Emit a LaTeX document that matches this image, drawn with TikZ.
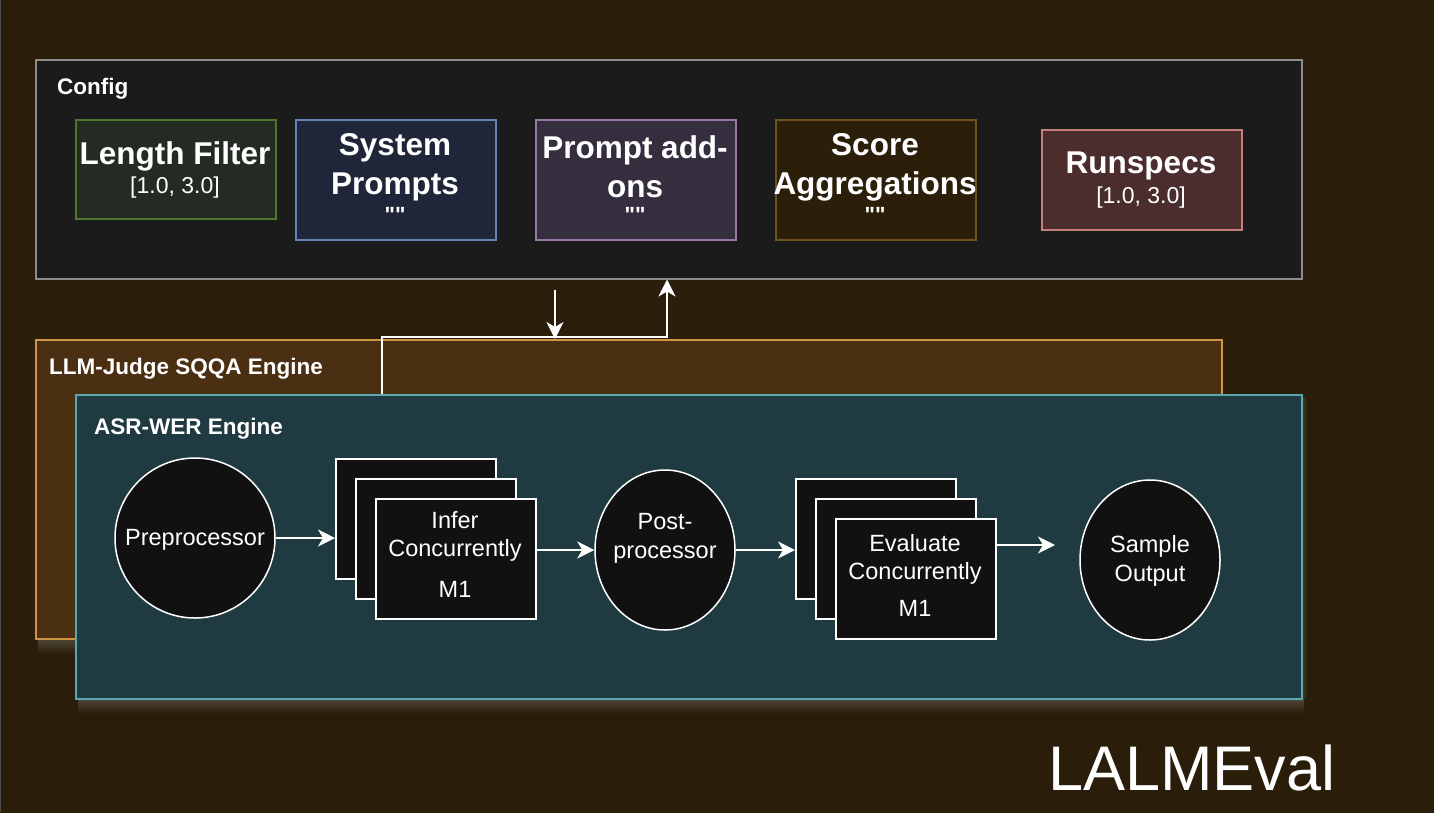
\documentclass[tikz,border=0pt]{standalone}
\usepackage{fontspec}
\setmainfont{Liberation Sans}
\newfontfamily\qfont{Liberation Sans}[Mapping=]
\usetikzlibrary{arrows.meta,shadows,shapes.geometric,calc}
\definecolor{bg}{HTML}{2A1E0A}
\definecolor{cfgfill}{HTML}{1B1B1B}
\definecolor{cfgdraw}{HTML}{8C8C8C}
\definecolor{lffill}{HTML}{242B22}
\definecolor{lfdraw}{HTML}{52752F}
\definecolor{spfill}{HTML}{1F2639}
\definecolor{spdraw}{HTML}{6281B4}
\definecolor{pafill}{HTML}{352E3F}
\definecolor{padraw}{HTML}{9577A8}
\definecolor{safill}{HTML}{2B1F0A}
\definecolor{sadraw}{HTML}{6E5219}
\definecolor{rsfill}{HTML}{4B2D2D}
\definecolor{rsdraw}{HTML}{C77E77}
\definecolor{llmfill}{HTML}{4A2F13}
\definecolor{llmdraw}{HTML}{CF9645}
\definecolor{asrfill}{HTML}{1F3A40}
\definecolor{asrdraw}{HTML}{5AA7AD}
\definecolor{blk}{HTML}{111111}
\definecolor{shd}{HTML}{B8B8B8}
\begin{document}
\begin{tikzpicture}[x=1pt,y=-1pt,
  box/.style={draw, line width=1.5pt, inner sep=0pt, anchor=north west},
  cfgbox/.style={box, minimum width=200pt},
  ttl/.style={text=white, align=center, inner sep=0pt, font=\fontsize{31.5}{39}\selectfont\bfseries},
  val/.style={text=white, align=center, inner sep=0pt, font=\fontsize{23}{28}\selectfont},
  qt/.style={text=white, inner sep=0pt, font=\qfont\fontsize{22}{26}\selectfont\bfseries},
  hdr/.style={text=white, anchor=west, inner sep=0pt, font=\fontsize{22.5}{27}\selectfont\bfseries},
  proc/.style={draw=white, fill=blk, line width=1.5pt, inner sep=0pt, text=white, align=center, font=\fontsize{23.5}{29}\selectfont},
  stk/.style={draw=white, fill=blk, line width=1.5pt, inner sep=0pt, minimum width=160pt, minimum height=120pt},
  conn/.style={draw=white, line width=1.5pt, -{Stealth[length=17pt,width=17pt,inset=5pt]}}
]
\useasboundingbox (0,0) rectangle (1434,812);
\fill[bg] (-5,-5) rectangle (1440,820);
\draw[gray!60!black, line width=1.5pt] (0.5,0) -- (0.5,812);

% Config
\node[box, draw=cfgdraw, fill=cfgfill, minimum width=1266pt, minimum height=219pt] (config) at (35,59) {};
\node[hdr] (cfgt) at (57,89) {Config};

\node[cfgbox, draw=lfdraw, fill=lffill, minimum height=99pt] (lf) at (75,119) {};
\node[ttl] (lft) at (175,156) {Length Filter};
\node[val] (lfv) at (175,188) {[1.0, 3.0]};

\node[cfgbox, draw=spdraw, fill=spfill, minimum height=120pt] (sp) at (295,119) {};
\node[ttl] (spt) at (395,167) {System\\Prompts};
\node[qt] (spq) at (395,215) {""};

\node[cfgbox, draw=padraw, fill=pafill, minimum height=120pt] (pa) at (535,119) {};
\node[ttl] (pat) at (635,167) {Prompt add-\\ons};
\node[qt] (paq) at (635,215) {""};

\node[cfgbox, draw=sadraw, fill=safill, minimum height=120pt] (sa) at (775,119) {};
\node[ttl] (sat) at (875,167) {Score\\Aggregations};
\node[qt] (saq) at (875,215) {""};

\node[cfgbox, draw=rsdraw, fill=rsfill, minimum height=100pt] (rs) at (1041,129) {};
\node[ttl] (rst) at (1141,166) {Runspecs};
\node[val] (rsv) at (1141,198) {[1.0, 3.0]};

% LLM-Judge engine with soft shadow
\foreach \i in {1,...,7}{
  \fill[shd, opacity=0.045] (38,639) rectangle (1224,639+2*\i);
}
\node[box, draw=llmdraw, fill=llmfill, minimum width=1186pt, minimum height=299pt] (llm) at (35,339) {};
\node[hdr] (llmt) at (49,369) {LLM-Judge SQQA Engine};

% ASR-WER engine with soft shadow
\foreach \i in {1,...,7}{
  \fill[shd, opacity=0.045] (78,699) rectangle (1304,699+2*\i);
  \fill[shd, opacity=0.03] (1302,397) rectangle (1302+0.8*\i,699);
}
\node[box, draw=asrdraw, fill=asrfill, minimum width=1226pt, minimum height=304pt] (asr) at (75,394) {};
\node[hdr] (asrt) at (94,429) {ASR-WER Engine};

% connectors to config
\coordinate (dn) at (555,290);
\coordinate (bend) at (382,337);
\coordinate (upx) at (667,337);
\draw[conn] (dn) -- (dn |- llm.north);
\draw[conn] (bend |- asr.north) -- (bend) -- (upx) -- (upx |- config.south);

% pipeline
\node[proc, circle, minimum size=160pt] (pre) at (195,538) {};
\node[val, font=\fontsize{23.5}{29}\selectfont] (pret) at (195,540) {Preprocessor};

\node[stk, anchor=north west] (inferA) at (335,458) {};
\node[stk, anchor=north west] (inferB) at (355,478) {};
\node[stk, anchor=north west] (inferC) at (375,498) {};
\node[val, font=\fontsize{23.5}{28}\selectfont] (infert) at (455,536) {Infer\\Concurrently};
\node[val, font=\fontsize{23.5}{28}\selectfont] (inferm) at (455,589) {M1};

\node[proc, ellipse, minimum width=140pt, minimum height=160pt] (post) at (665,550) {};
\node[val, font=\fontsize{23.5}{29}\selectfont] (postt) at (665,538) {Post-\\processor};

\node[stk, anchor=north west] (evalA) at (795,478) {};
\node[stk, anchor=north west] (evalB) at (815,498) {};
\node[stk, anchor=north west] (evalC) at (835,518) {};
\node[val, font=\fontsize{23.5}{28}\selectfont] (evalt) at (915,559) {Evaluate\\Concurrently};
\node[val, font=\fontsize{23.5}{28}\selectfont] (evalm) at (915,608) {M1};

\node[proc, ellipse, minimum width=140pt, minimum height=160pt] (out) at (1150,560) {};
\node[val, font=\fontsize{23.5}{29}\selectfont] (outt) at (1150,561) {Sample\\Output};

\coordinate (outend) at (1055,545);
\draw[conn] (pre.east) -- (pre.east -| inferA.west);
\draw[conn] (post.west -| inferC.east) -- (post.west);
\draw[conn] (post.east) -- (post.east -| evalA.west);
\draw[conn] (outend -| evalC.east) -- (outend);

\node[text=white, anchor=west, inner sep=0pt, font=\fontsize{63}{70}\selectfont] (title) at (1048,768) {LALMEval};
\end{tikzpicture}
\end{document}
